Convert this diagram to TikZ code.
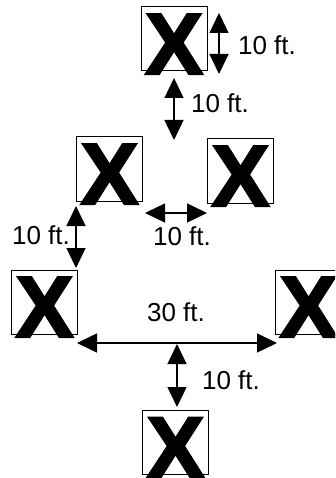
\documentclass[tikz,border=0pt]{standalone}
\usepackage{fontspec}
\setmainfont{Liberation Sans}
\newfontfamily\xmarkfont{Liberation Sans Bold}[FakeBold=2.5]
\usetikzlibrary{arrows.meta}
\begin{document}
\begin{tikzpicture}[x=1pt,y=-1pt,
  stationbox/.style={draw, line width=1pt, minimum width=66pt, minimum height=64pt, inner sep=0pt},
  xmark/.style={anchor=base, inner sep=0pt, font=\xmarkfont\fontsize{87}{87}\selectfont},
  dim/.style={line width=1.4pt, {Triangle[length=20pt,width=19pt]}-{Triangle[length=20pt,width=19pt]}},
  lbl/.style={inner sep=0pt, font=\fontsize{26}{26}\selectfont}]
\useasboundingbox (0,0) rectangle (335,478);
\clip (0,0) rectangle (335,478);
% stations
\node[stationbox] (T)  at (174,39) {};
\node[stationbox] (ML) at (109.5,169) {};
\node[stationbox] (MR) at (240.5,171) {};
\node[stationbox] (LL) at (44.5,302) {};
\node[stationbox] (LR) at (308.5,302) {};
\node[stationbox] (B)  at (175.5,442.5) {};
\foreach \s in {T,ML,MR,LL,LR,B}{
  \node[xmark] (X\s) at ([yshift=-2.5pt]\s.south) {X};
}
% dimension end points
\coordinate (a1) at (219,13);  \coordinate (a2) at (219,74);
\coordinate (b1) at (174,78);  \coordinate (b2) at (174,140);
\coordinate (c1) at (145,213); \coordinate (c2) at (207,213);
\coordinate (d1) at (76,206);  \coordinate (d2) at (76,268);
\coordinate (e1) at (77,343);  \coordinate (e2) at (277,343);
\coordinate (f1) at (177,344); \coordinate (f2) at (177,407);
\draw[dim] (a1) -- (a2);
\draw[dim] (b1) -- (b2);
\draw[dim] (c1) -- (c2);
\draw[dim] (d1) -- (d2);
\draw[dim] (e1) -- (e2);
\draw[dim] (f1) -- (f2);
% labels
\node[lbl] (la) at (267,45) {10 ft.};
\node[lbl] (lb) at (220,103) {10 ft.};
\node[lbl] (lc) at (182,236) {10 ft.};
\node[lbl] (ld) at (41,235) {10 ft.};
\node[lbl] (le) at (176,312) {30 ft.};
\node[lbl] (lf) at (231,380) {10 ft.};
\end{tikzpicture}
\end{document}
